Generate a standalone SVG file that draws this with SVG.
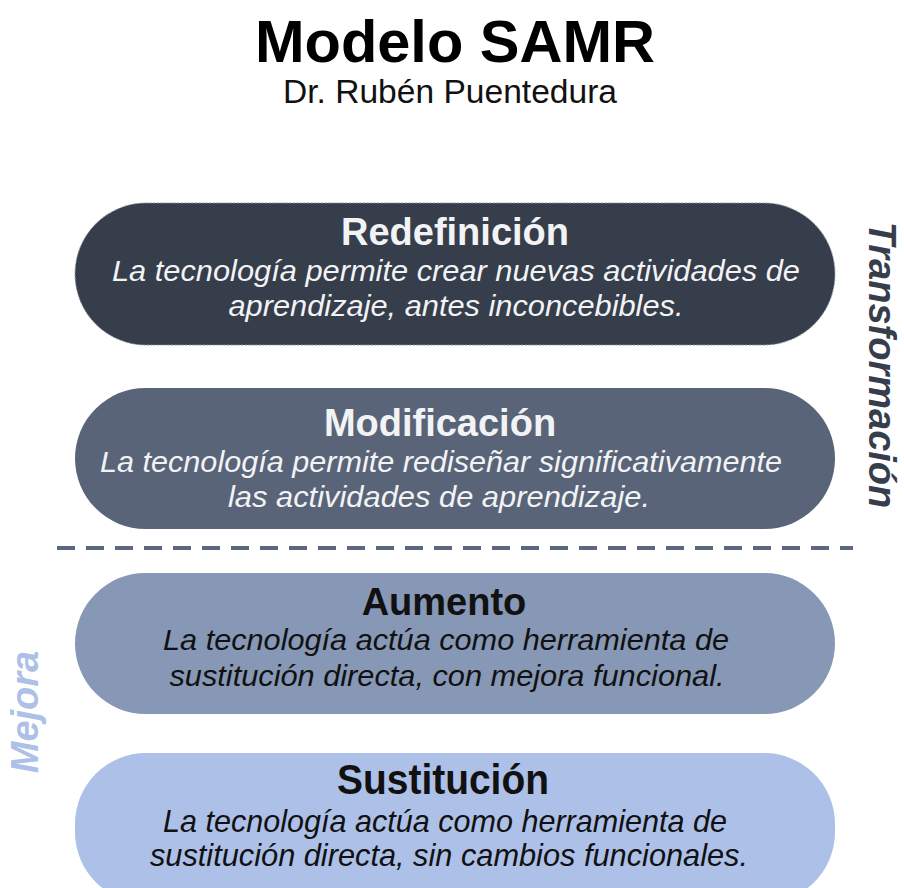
<svg xmlns="http://www.w3.org/2000/svg" width="904" height="888" viewBox="0 0 904 888">
<style>
  text { font-family: "Liberation Sans", Arial, Helvetica, sans-serif; text-anchor: middle; }
  .ttl { font-size: 38px; font-weight: bold; }
  .dsc { font-size: 30px; font-style: italic; }
  .light { fill: #f2f3f5; }
  .dark { fill: #111111; }
  .side { font-size: 38px; font-weight: bold; font-style: italic; }
</style>
<rect width="904" height="888" fill="#ffffff"/>
<g id="header">
  <text x="455" y="62" font-size="60" font-weight="bold" fill="#000000" textLength="400" lengthAdjust="spacingAndGlyphs">Modelo SAMR</text>
  <text x="450" y="103" font-size="33" fill="#111111" textLength="334" lengthAdjust="spacingAndGlyphs">Dr. Rubén Puentedura</text>
</g>
<g id="redefinicion">
  <rect x="75" y="203" width="760" height="142" rx="71" fill="#363d4b" stroke="#8c9099" stroke-width="1" stroke-dasharray="2 1.5"/>
  <text class="ttl light" x="455" y="245">Redefinición</text>
  <text class="dsc light" x="456" y="281" textLength="688" lengthAdjust="spacingAndGlyphs">La tecnología permite crear nuevas actividades de</text>
  <text class="dsc light" x="456" y="316" textLength="455" lengthAdjust="spacingAndGlyphs">aprendizaje, antes inconcebibles.</text>
</g>
<g id="modificacion">
  <rect x="75" y="388" width="760" height="141" rx="70.5" fill="#5a6478"/>
  <text class="ttl light" x="440" y="436">Modificación</text>
  <text class="dsc light" x="441" y="472" textLength="682" lengthAdjust="spacingAndGlyphs">La tecnología permite rediseñar significativamente</text>
  <text class="dsc light" x="439" y="507" textLength="422" lengthAdjust="spacingAndGlyphs">las actividades de aprendizaje.</text>
</g>
<g id="divider">
  <line x1="57" y1="548" x2="853" y2="548" stroke="#5b6680" stroke-width="4" stroke-dasharray="18 11"/>
</g>
<g id="aumento">
  <rect x="75" y="573" width="760" height="141" rx="70.5" fill="#8797b6"/>
  <text class="ttl dark" x="444" y="615">Aumento</text>
  <text class="dsc dark" x="446" y="650" textLength="566" lengthAdjust="spacingAndGlyphs">La tecnología actúa como herramienta de</text>
  <text class="dsc dark" x="447" y="686" textLength="555" lengthAdjust="spacingAndGlyphs">sustitución directa, con mejora funcional.</text>
</g>
<g id="sustitucion">
  <rect x="75" y="753" width="760" height="150" rx="71" fill="#adc0e8"/>
  <text class="dark" x="443" y="794" font-size="42" font-weight="bold" textLength="212" lengthAdjust="spacingAndGlyphs">Sustitución</text>
  <text class="dark" x="445" y="832" font-size="32" font-style="italic" textLength="564" lengthAdjust="spacingAndGlyphs">La tecnología actúa como herramienta de</text>
  <text class="dark" x="449" y="866" font-size="32" font-style="italic" textLength="598" lengthAdjust="spacingAndGlyphs">sustitución directa, sin cambios funcionales.</text>
</g>
<g id="labels">
  <text class="side" fill="#363d4b" transform="translate(869,365) rotate(90)">Transformación</text>
  <text class="side" fill="#adc0e8" transform="translate(38,712) rotate(-90)">Mejora</text>
</g>
</svg>
